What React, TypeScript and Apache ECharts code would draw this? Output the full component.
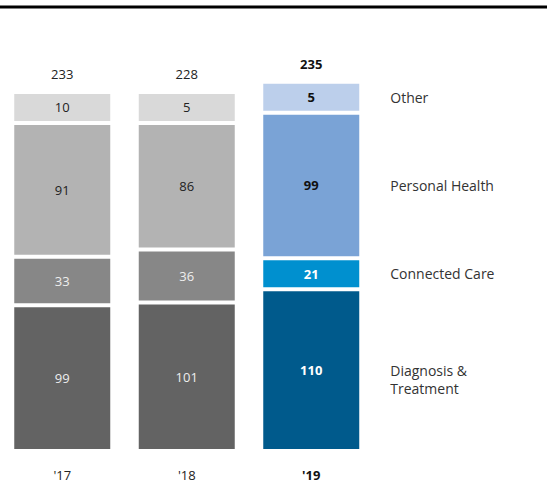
import React, { useEffect, useRef } from "react";
import * as echarts from "echarts";

const years = ["'17", "'18", "'19"];
const diagnosis = [99, 101, 110];
const connected = [33, 36, 21];
const personal = [91, 86, 99];
const other = [10, 5, 5];
const totals = [233, 228, 235];
const names = ["Diagnosis &\nTreatment", "Connected Care", "Personal Health", "Other"];

const greyColors = ["#636363", "#878787", "#b3b3b3", "#d9d9d9"];
const blueColors = ["#005a8c", "#0090cf", "#7aa3d6", "#bccfeb"];
const lightText = [true, true, false, false];

const FONT = "'Open Sans', 'Noto Sans', sans-serif";
const OTHER_MIN = 31;
const BAR_W = 100;

export default function App() {
  const ref = useRef<HTMLDivElement>(null);
  useEffect(() => {
    document.body.style.margin = "0";
    const chart = echarts.init(ref.current!, null, { renderer: "svg" });
    const seriesData = [diagnosis, connected, personal, other];
    const series: any[] = [];
    // visible stack
    seriesData.forEach((arr, si) => {
      series.push({
        type: "bar",
        name: names[si],
        stack: "main",
        barWidth: BAR_W,
        barGap: "-100%",
        barMinHeight: si === 3 ? OTHER_MIN : 0,
        data: arr.map((v, i) => {
          const last = i === years.length - 1;
          return {
            value: v,
            itemStyle: {
              color: last ? blueColors[si] : greyColors[si],
              borderColor: "#ffffff",
              borderWidth: 2,
            },
            label: {
              show: true,
              position: "inside",
              fontFamily: FONT,
              fontSize: 13,
              fontWeight: last ? "bold" : "normal",
              color: last
                ? lightText[si] ? "#ffffff" : "#111111"
                : lightText[si] ? "#eeeeee" : "#222222",
            },
          };
        }),
      });
    });
    // transparent stack for category names on the right of last bar
    seriesData.forEach((arr, si) => {
      series.push({
        type: "bar",
        stack: "names",
        barWidth: BAR_W,
        barGap: "-100%",
        silent: true,
        barMinHeight: si === 3 ? OTHER_MIN : 0,
        itemStyle: { color: "rgba(0,0,0,0)", borderWidth: 0 },
        data: arr.map((v, i) => ({
          value: v,
          label: {
            show: i === years.length - 1,
            position: "right",
            distance: 29,
            formatter: names[si],
            fontFamily: FONT,
            fontSize: 14,
            lineHeight: 18,
            color: "#333333",
            offset: si === 0 ? [0, 9] : [0, 0],
          },
        })),
      });
    });
    // transparent stack for totals on top
    const base = diagnosis.map((v, i) => v + connected[i] + personal[i]);
    series.push({
      type: "bar",
      stack: "totals",
      barWidth: BAR_W,
      barGap: "-100%",
      silent: true,
      itemStyle: { color: "rgba(0,0,0,0)", borderWidth: 0 },
      data: base,
    });
    series.push({
      type: "bar",
      stack: "totals",
      barWidth: BAR_W,
      barGap: "-100%",
      silent: true,
      barMinHeight: OTHER_MIN,
      itemStyle: { color: "rgba(0,0,0,0)", borderWidth: 0 },
      data: other.map((v, i) => ({
        value: v,
        label: {
          show: true,
          position: "top",
          distance: 11,
          formatter: String(totals[i]),
          fontFamily: FONT,
          fontSize: 13,
          fontWeight: i === years.length - 1 ? "bold" : "normal",
          color: i === years.length - 1 ? "#111111" : "#222222",
        },
      })),
    });

    chart.setOption({
      animation: false,
      grid: { left: -1.5, width: 375, top: 9.7, bottom: 32 },
      graphic: [
        {
          type: "rect",
          shape: { x: 0, y: 5.5, width: 547, height: 3 },
          style: { fill: "#000000" },
          silent: true,
        },
      ],
      xAxis: {
        type: "category",
        data: years,
        axisLine: { show: false },
        axisTick: { show: false },
        axisLabel: {
          margin: 17,
          fontFamily: FONT,
          fontSize: 13,
          color: "#222222",
          formatter: (val: string, idx: number) =>
            idx === years.length - 1 ? `{b|${val}}` : val,
          rich: { b: { fontWeight: "bold", fontFamily: FONT, fontSize: 13, color: "#111111" } },
        },
      },
      yAxis: { type: "value", min: 0, max: 300, show: false, splitLine: { show: false } },
      series,
    });
    return () => chart.dispose();
  }, []);
  return (
    <div
      ref={ref}
      style={{ position: "absolute", left: 0, top: 0, width: 547, height: 483 }}
    />
  );
}
